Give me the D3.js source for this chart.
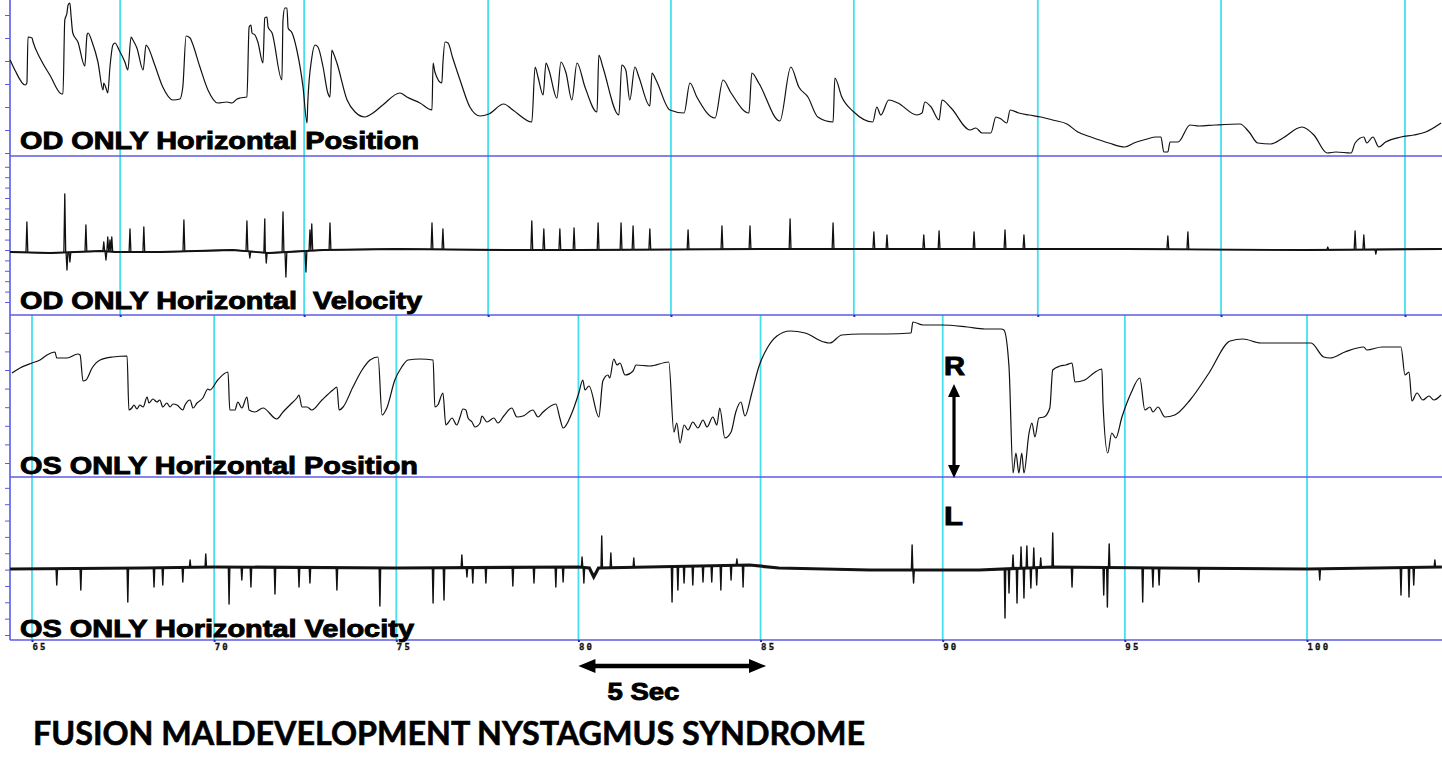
<!DOCTYPE html>
<html>
<head>
<meta charset="utf-8">
<script src="https://cdn.jsdelivr.net/npm/d3@7"></script>
<style>
  body { margin: 0; background: #fff; }
  svg { display: block; }
</style>
</head>
<body>
<div id="chart"></div>
<script>
// time axis (seconds) and the grid seconds used by the OD recording
const axisSeconds = [65, 70, 75, 80, 85, 90, 95, 100];
const odGridSeconds = [67.42, 72.47, 77.52, 82.54, 87.56, 92.61, 97.64, 102.69];
const scaleBarSeconds = [80, 85.15];
const rlArrowSecond = 90.31;

// OD horizontal position [s, deg]
const odPosition = [
  [64.40,3.6],[64.53,1.6],[64.81,-1.4],[64.86,-1.0],[64.89,8.2],[65.00,8.0],[65.03,7.2],[65.22,4.0],[65.49,0.6],[65.82,-3.2],[65.85,-3.2],
  [65.90,11.6],[65.96,13.0],[65.99,14.6],[66.04,15.0],[66.07,12.6],[66.12,9.0],[66.26,7.2],[66.45,2.4],[66.51,8.6],[66.54,9.0],[66.65,7.2],
  [66.81,3.2],[66.95,-2.4],[66.97,-1.0],[67.03,-2.0],[67.08,-3.0],[67.14,2.2],[67.22,6.6],[67.28,7.0],[67.39,5.6],[67.55,3.2],[67.63,1.6],
  [67.72,8.2],[67.77,7.6],[67.88,6.0],[68.05,1.6],[68.13,6.6],[68.18,6.2],[68.37,2.6],[68.59,-1.8],[68.87,-4.4],[69.06,-4.2],[69.14,-1.8],
  [69.23,8.4],[69.34,8.0],[69.39,7.2],[69.61,2.2],[69.83,-2.4],[70.10,-5.0],[70.35,-4.8],[70.49,-5.0],[70.63,-4.2],[70.71,-4.0],[70.90,-3.8],
  [70.96,10.2],[71.01,10.6],[71.04,9.0],[71.12,8.6],[71.20,7.2],[71.34,3.0],[71.39,12.0],[71.45,12.2],[71.48,10.2],[71.59,9.0],[71.86,-0.4],
  [71.89,11.6],[71.94,14.0],[72.00,14.0],[72.03,10.0],[72.14,9.0],[72.27,5.6],[72.44,-1.8],[72.55,-9.0],[72.57,-5.0],[72.68,4.0],[72.77,6.6],
  [72.85,6.2],[72.99,2.2],[73.12,-3.0],[73.18,-3.8],[73.23,5.6],[73.26,5.2],[73.37,3.0],[73.65,-4.4],[73.87,-6.8],[74.14,-7.8],[74.36,-7.0],
  [74.63,-5.4],[75.10,-3.0],[75.29,-3.8],[75.65,-5.0],[75.98,-6.4],[76.01,3.0],[76.06,1.2],[76.25,-1.0],[76.28,3.0],[76.34,7.2],[76.42,7.0],
  [76.55,4.0],[76.75,-0.4],[77.02,-5.8],[77.30,-7.6],[77.54,-7.2],[77.95,-5.2],[78.20,-6.4],[78.72,-8.8],[78.81,2.2],[78.89,0.2],[79.03,-3.4],
  [79.11,3.0],[79.19,1.6],[79.41,-4.0],[79.52,3.2],[79.66,1.0],[79.82,-4.4],[79.96,3.0],[80.18,-1.8],[80.51,-6.8],[80.56,4.6],[80.67,2.2],
  [81.11,-7.4],[81.19,2.6],[81.30,1.6],[81.41,-4.4],[81.55,2.2],[81.66,0.2],[81.96,-5.6],[82.02,1.0],[82.13,-0.4],[82.51,-6.4],[82.90,-7.0],
  [83.06,-1.0],[83.25,-3.8],[83.75,-8.0],[83.97,-0.4],[84.19,-3.0],[84.68,-7.0],[84.76,1.0],[84.95,-1.0],[85.53,-8.6],[85.83,2.2],[86.05,-1.8],
  [86.30,-3.8],[86.57,-7.8],[86.99,-8.8],[87.04,0.0],[87.23,-3.8],[87.56,-6.8],[88.08,-8.8],[88.19,-5.8],[88.30,-7.4],[88.52,-4.4],[88.77,-5.0],
  [89.29,-7.4],[89.43,-7.0],[89.51,-4.8],[89.68,-5.8],[89.90,-8.4],[89.98,-4.4],[90.23,-6.0],[90.75,-10.4],[90.91,-10.0],[91.08,-11.0],
  [91.32,-11.0],[91.46,-7.8],[91.60,-8.2],[91.76,-9.0],[91.85,-6.4],[92.09,-7.0],[92.37,-7.4],[92.70,-7.8],[93.02,-8.4],[93.41,-9.2],
  [93.71,-10.8],[94.07,-11.8],[94.56,-13.0],[95.00,-13.8],[95.25,-13.0],[95.61,-12.2],[95.85,-11.8],[95.99,-11.8],[96.07,-14.8],[96.18,-14.8],
  [96.24,-12.8],[96.46,-12.8],[96.79,-9.4],[97.03,-9.6],[97.47,-9.4],[98.16,-9.2],[98.41,-10.8],[98.65,-13.0],[99.01,-13.2],[99.34,-12.0],
  [99.86,-9.8],[100.19,-11.4],[100.55,-15.0],[100.79,-14.8],[101.21,-15.0],[101.32,-13.0],[101.56,-11.8],[101.64,-13.0],[101.81,-11.8],
  [101.97,-13.8],[102.16,-12.8],[102.58,-11.8],[102.93,-11.4],[103.26,-10.8],[103.68,-9.0]
];

// OD horizontal velocity: slow baseline [s, deg/s] and saccade peaks [s, deg/s]
const odVelocityBase = [
  [64.40,-0.4],[65.5,-0.6],[66.9,-0.2],[67.3,-0.4],[68.5,-0.4],[69.5,-0.2],[70.5,0],[71.5,-0.6],[73,0],[75,0.2],
  [78,0],[80,0],[85,0.2],[90,0.2],[95,0.2],[100,0],[103.7,0.2]
];
const odVelocitySpikes = [
  [64.86,5.6],[65.90,11.2],[65.96,-4.0],[66.04,-2.4],[66.48,5.0],[66.97,1.6],[67.03,-2.0],[67.08,2.6],[67.14,2.0],[67.19,2.6],
  [67.69,4.2],[68.07,4.6],[69.17,6.0],[70.90,5.8],[70.98,-1.6],[71.39,6.2],[71.43,-2.6],[71.89,7.6],[71.97,-5.4],[72.52,-4.4],
  [72.63,4.0],[72.68,5.2],[73.18,5.4],[75.98,5.4],[76.28,4.2],[78.72,5.8],[79.05,4.2],[79.49,4.2],[79.88,4.4],[80.54,5.4],
  [81.17,5.4],[81.50,4.8],[81.96,4.2],[83.01,4.0],[83.94,4.8],[84.71,4.8],[85.81,6.2],[86.99,5.4],[88.11,3.6],[88.47,3.0],
  [89.48,3.0],[89.90,3.8],[90.86,3.6],[91.71,4.0],[92.23,3.0],[96.18,2.8],[96.73,3.6],[100.57,0.6],[101.32,3.8],[101.56,3.0],[101.89,-0.8]
];

// OS horizontal position [s, deg]
const osPosition = [
  [64.45,4.6],[64.67,5.6],[65.00,6.6],[65.22,7.2],[65.41,8.2],[65.63,8.8],[65.68,7.6],[65.96,7.6],[66.26,8.4],[66.32,8.2],[66.40,3.0],
  [66.48,3.2],[66.65,5.6],[66.87,7.2],[67.22,7.8],[67.61,8.0],[67.66,-2.8],[67.74,-2.4],[67.80,-1.8],[67.88,-2.6],[67.96,-1.8],[68.05,-2.2],
  [68.16,-0.2],[68.21,-1.4],[68.32,-0.6],[68.43,-1.2],[68.51,-0.8],[68.59,-2.2],[68.70,-1.4],[68.79,-2.2],[68.87,-1.6],[68.98,-1.8],
  [69.14,-2.8],[69.20,-1.8],[69.34,-0.8],[69.42,-2.4],[69.53,-1.4],[69.69,-0.4],[69.83,1.4],[69.88,1.2],[70.10,3.2],[70.38,4.8],[70.43,-2.8],
  [70.57,-2.8],[70.65,-1.2],[70.76,-2.4],[70.90,-0.2],[70.96,-2.8],[71.12,-3.2],[71.34,-2.4],[71.72,-4.6],[71.89,-3.2],[72.08,-1.8],
  [72.27,-0.4],[72.33,0.2],[72.41,-2.2],[72.55,-2.2],[72.68,-2.8],[72.96,-0.8],[73.26,1.2],[73.37,1.8],[73.43,-2.8],[73.54,-2.2],[73.81,1.8],
  [74.06,5.2],[74.28,7.2],[74.50,7.8],[74.61,-3.8],[74.74,-2.4],[74.96,3.2],[75.15,5.8],[75.32,7.2],[75.65,7.4],[76.01,7.2],[76.06,-2.2],
  [76.14,-1.8],[76.28,0.6],[76.36,-5.8],[76.42,-5.4],[76.53,-4.4],[76.66,-5.8],[76.75,-4.2],[76.83,-2.6],[76.91,-2.8],[76.97,-4.4],
  [77.08,-5.2],[77.16,-6.2],[77.30,-5.4],[77.35,-4.0],[77.49,-5.2],[77.68,-4.4],[77.79,-5.4],[77.95,-4.0],[78.17,-2.4],[78.31,-4.2],
  [78.48,-4.0],[78.75,-2.8],[78.89,-4.2],[79.03,-3.2],[79.38,-1.6],[79.49,-4.4],[79.58,-6.4],[79.82,-3.4],[80.01,0.6],[80.12,3.2],
  [80.18,1.2],[80.29,2.0],[80.56,-4.2],[80.67,3.0],[80.81,4.2],[80.86,3.6],[80.97,7.4],[81.06,6.2],[81.14,6.6],[81.28,4.2],[81.50,5.0],
  [81.58,6.2],[81.96,6.0],[82.48,6.8],[82.62,-7.2],[82.70,-5.4],[82.79,-9.4],[82.90,-5.8],[83.01,-6.8],[83.14,-5.2],[83.28,-6.4],
  [83.42,-4.8],[83.53,-6.2],[83.69,-4.2],[83.80,-5.8],[83.88,-2.4],[84.02,-8.4],[84.19,-7.2],[84.32,-3.2],[84.46,-1.2],[84.57,-4.0],
  [84.76,0.6],[84.95,5.8],[85.20,9.8],[85.45,12.0],[85.81,13.0],[86.22,12.6],[86.74,10.8],[86.90,10.6],[87.23,12.2],[87.75,12.4],
  [88.44,12.4],[89.13,12.6],[89.18,14.8],[89.46,14.2],[89.98,14.2],[90.67,13.8],[91.16,13.4],[91.60,13.4],[91.68,13.2],[91.82,5.8],
  [91.93,-15.4],[92.01,-11.4],[92.09,-15.4],[92.17,-11.4],[92.23,-15.4],[92.37,-7.4],[92.45,-5.4],[92.53,-8.2],[92.64,-4.4],[92.78,-4.2],
  [92.94,-2.4],[93.02,5.2],[93.22,6.0],[93.38,6.2],[93.55,6.6],[93.63,2.8],[93.90,3.2],[94.15,4.6],[94.37,5.4],[94.40,-1.4],[94.53,-11.4],
  [94.64,-7.4],[94.75,-8.4],[94.92,-4.2],[95.17,0.6],[95.41,3.6],[95.55,-2.8],[95.69,-2.2],[95.77,-3.2],[95.91,-2.2],[96.10,-4.2],
  [96.37,-3.8],[96.79,-0.8],[97.31,4.6],[97.89,11.0],[98.24,11.4],[98.73,10.6],[99.17,10.6],[99.86,10.6],[100.11,10.6],[100.46,7.8],
  [100.63,7.6],[101.04,8.8],[101.56,9.8],[101.64,9.2],[102.06,9.8],[102.58,9.8],[102.69,4.2],[102.80,4.8],[102.88,-1.0],[103.02,0.6],
  [103.18,-0.8],[103.35,0.0],[103.48,-0.8],[103.68,0.2]
];

// OS horizontal velocity: baseline and peaks
const osVelocityBase = [
  [64.40,0],[68,0.2],[70,0.4],[75,0.2],[80,0.4],[80.3,0.2],[80.42,-1.6],[80.55,0.2],[84.7,0.8],[85.5,0.2],[88,-0.2],
  [91,-0.2],[93,0.4],[96,0.2],[100,0],[103.7,0.4]
];
const osVelocitySpikes = [
  [65.68,-3.2],[66.34,-4.2],[67.63,-6.6],[68.35,-3.6],[68.59,-3.2],[69.14,-2.6],[69.34,1.8],[69.77,3.0],[70.41,-7.0],[70.76,-2.2],
  [71.01,-3.6],[71.67,-5.0],[72.33,-3.6],[72.63,-2.8],[73.37,-4.2],[74.55,-7.4],[76.01,-6.8],[76.31,-6.2],[76.80,2.8],[76.94,-1.6],
  [77.10,-2.8],[77.46,-2.8],[78.20,-3.4],[78.78,-2.8],[79.38,-3.6],[79.58,-2.6],[80.10,2.4],[80.15,-2.8],[80.64,6.6],[80.89,3.2],
  [81.52,2.2],[82.57,-6.6],[82.73,-4.2],[82.90,-2.8],[83.14,-3.2],[83.42,-2.6],[83.66,-2.6],[83.91,-4.2],[84.19,-2.2],[84.35,2.0],
  [84.52,-3.6],[89.16,4.8],[89.20,-2.8],[91.71,-9.8],[91.82,-4.8],[91.93,2.8],[92.04,-6.8],[92.15,4.4],[92.23,-5.8],[92.31,4.6],
  [92.42,-3.8],[92.50,4.2],[92.58,-3.2],[92.69,2.2],[93.02,7.2],[93.55,-3.6],[94.42,-5.2],[94.52,-7.6],[94.57,5.0],[95.49,-6.6],
  [95.77,-3.6],[95.94,-3.2],[97.03,-2.6],[100.35,-2.2],[102.58,-5.2],[102.80,-5.6],[102.93,-3.2],[103.51,1.8]
];

const W = 1442, H = 763;
const axisColor = '#5b5be3';
const gridColor = '#45e0ee';
const traceColor = '#111';

const svg = d3.select('#chart').append('svg')
  .attr('width', W)
  .attr('height', H);

svg.append('rect').attr('width', W).attr('height', H).attr('fill', '#fff');

const x = d3.scaleLinear().domain([65, 100]).range([32, 1307]);
const plotLeft = 10, plotRight = W;

const panels = [
  { top: 0,   bottom: 156, domain: [-15.6, 15.6], ticks: d3.range(-15, 15.6, 4.6) },
  { top: 156, bottom: 315, domain: [-13, 18.8],   ticks: d3.range(-10.4, 18, 2.08) },
  { top: 315, bottom: 477, domain: [-16.2, 16.2], ticks: d3.range(-13.4, 14, 3.72) },
  { top: 477, bottom: 640, domain: [-14.2, 18.4], ticks: d3.range(-13.2, 17, 3.27) }
];
panels.forEach(p => {
  p.y = d3.scaleLinear().domain(p.domain).range([p.bottom, p.top]);
});

// build a velocity trace from baseline knots + narrow saccade peaks
function buildVelocity(base, spikes, w) {
  const baseAt = d3.scaleLinear().domain(base.map(d => d[0])).range(base.map(d => d[1]));
  const pts = base.map(d => [d[0], d[1]]);
  spikes.forEach(([t, v]) => {
    pts.push([t - w, baseAt(t - w)], [t, v], [t + w, baseAt(t + w)]);
  });
  pts.sort((a, b) => a[0] - b[0]);
  return pts;
}

const odVelocity = buildVelocity(odVelocityBase, odVelocitySpikes, 0.025);
const osVelocity = buildVelocity(osVelocityBase, osVelocitySpikes, 0.02);

// vertical grid
svg.append('g').selectAll('line')
  .data(odGridSeconds)
  .join('line')
  .attr('x1', d => x(d)).attr('x2', d => x(d))
  .attr('y1', 0).attr('y2', 315)
  .attr('stroke', gridColor).attr('stroke-width', 1.8);

svg.append('g').selectAll('line')
  .data(axisSeconds)
  .join('line')
  .attr('x1', d => x(d)).attr('x2', d => x(d))
  .attr('y1', 315).attr('y2', 640)
  .attr('stroke', gridColor).attr('stroke-width', 1.8);

// panel separators and left axis
svg.append('g').selectAll('line')
  .data(panels)
  .join('line')
  .attr('x1', plotLeft).attr('x2', plotRight)
  .attr('y1', d => d.bottom).attr('y2', d => d.bottom)
  .attr('stroke', axisColor).attr('stroke-width', 1.4);

svg.append('line')
  .attr('x1', plotLeft).attr('x2', plotLeft)
  .attr('y1', 0).attr('y2', 640)
  .attr('stroke', axisColor).attr('stroke-width', 1.6);

panels.forEach(p => {
  svg.append('g')
    .attr('transform', `translate(${plotLeft},0)`)
    .call(d3.axisLeft(p.y).tickValues(p.ticks).tickSize(5).tickFormat(''))
    .call(g => g.select('.domain').remove())
    .call(g => g.selectAll('line').attr('stroke', axisColor).attr('stroke-width', 1));
});

// small marks at bottom of the OD block
svg.append('g')
  .attr('transform', 'translate(0,315)')
  .call(d3.axisBottom(x).tickValues(odGridSeconds).tickSize(2).tickFormat(''))
  .call(g => g.select('.domain').remove())
  .call(g => g.selectAll('line').attr('stroke', '#2a2ac0').attr('stroke-width', 2));

// time axis
svg.append('g')
  .attr('transform', 'translate(0,640)')
  .call(d3.axisBottom(x).tickValues(axisSeconds).tickSize(2).tickFormat(d3.format('d')))
  .call(g => g.select('.domain').remove())
  .call(g => g.selectAll('line').attr('stroke', '#2a2ac0').attr('stroke-width', 2))
  .call(g => g.selectAll('text')
    .attr('text-anchor', 'start')
    .attr('x', 0)
    .attr('y', 10)
    .attr('dy', 0)
    .attr('fill', '#111')
    .attr('stroke', '#111')
    .attr('stroke-width', 0.3)
    .style('font-family', '"DejaVu Sans Mono", monospace')
    .style('font-weight', 'bold')
    .style('font-size', '9px')
    .style('letter-spacing', '2.2px'));

// velocity baselines carry a fine noise band in the recording; drawn as a thicker base stroke
[[odVelocityBase, panels[1], 1.8], [osVelocityBase, panels[3], 3.2]].forEach(([data, panel, width]) => {
  svg.append('path')
    .datum(data)
    .attr('d', d3.line().x(d => x(d[0])).y(d => panel.y(d[1])))
    .attr('fill', 'none')
    .attr('stroke', '#1a1a1a')
    .attr('stroke-width', width);
});

// traces
const series = [
  { data: odPosition, panel: panels[0], width: 1.2, curve: d3.curveMonotoneX },
  { data: odVelocity, panel: panels[1], width: 1.3, curve: d3.curveLinear },
  { data: osPosition, panel: panels[2], width: 1.2, curve: d3.curveMonotoneX },
  { data: osVelocity, panel: panels[3], width: 1.4, curve: d3.curveLinear }
];
series.forEach(s => {
  const line = d3.line()
    .curve(s.curve)
    .x(d => x(d[0]))
    .y(d => s.panel.y(d[1]));
  svg.append('path')
    .datum(s.data)
    .attr('d', line)
    .attr('fill', 'none')
    .attr('stroke', traceColor)
    .attr('stroke-width', s.width)
    .attr('stroke-linejoin', 'round');
});

// panel labels
const labels = [
  { text: 'OD ONLY Horizontal Position', y: 149, len: 399 },
  { text: 'OD ONLY Horizontal  Velocity', y: 308.5, len: 402 },
  { text: 'OS ONLY Horizontal Position', y: 474, len: 398 },
  { text: 'OS ONLY Horizontal Velocity', y: 636.5, len: 394 }
];
const boldText = sel => sel
  .style('font-family', '"Liberation Sans", Arial, sans-serif')
  .style('font-weight', 'bold')
  .attr('fill', '#000')
  .attr('stroke', '#000')
  .attr('stroke-width', 0.9)
  .attr('lengthAdjust', 'spacingAndGlyphs');

svg.append('g').selectAll('text')
  .data(labels)
  .join('text')
  .attr('x', 20)
  .attr('y', d => d.y)
  .attr('textLength', d => d.len)
  .style('white-space', 'pre')
  .style('font-size', '24px')
  .call(boldText)
  .text(d => d.text);

// 5 s scale bar
const barY = 666;
const bx0 = x(scaleBarSeconds[0]), bx1 = x(scaleBarSeconds[1]);
svg.append('line')
  .attr('x1', bx0 + 10).attr('x2', bx1 - 10)
  .attr('y1', barY).attr('y2', barY)
  .attr('stroke', '#000').attr('stroke-width', 4.5);
svg.append('path')
  .attr('d', `M${bx0},${barY} L${bx0 + 17},${barY - 7} L${bx0 + 17},${barY + 7} Z M${bx1},${barY} L${bx1 - 17},${barY - 7} L${bx1 - 17},${barY + 7} Z`)
  .attr('fill', '#000');
svg.append('text')
  .attr('x', bx0 + 29).attr('y', 700)
  .attr('textLength', 72)
  .style('font-size', '24px')
  .call(boldText)
  .text('5 Sec');

// R / L direction arrow
const ax = x(rlArrowSecond);
const aTop = 384, aBot = 478;
svg.append('line')
  .attr('x1', ax).attr('x2', ax)
  .attr('y1', aTop + 8).attr('y2', aBot - 8)
  .attr('stroke', '#000').attr('stroke-width', 3.2);
svg.append('path')
  .attr('d', `M${ax},${aTop} L${ax - 6},${aTop + 13} L${ax + 6},${aTop + 13} Z M${ax},${aBot} L${ax - 6},${aBot - 13} L${ax + 6},${aBot - 13} Z`)
  .attr('fill', '#000');
svg.append('text')
  .attr('x', ax - 10).attr('y', 375)
  .attr('textLength', 21)
  .style('font-size', '25px')
  .call(boldText)
  .text('R');
svg.append('text')
  .attr('x', ax - 10).attr('y', 525)
  .attr('textLength', 19)
  .style('font-size', '25px')
  .call(boldText)
  .text('L');

// title
svg.append('text')
  .attr('x', 33).attr('y', 745)
  .attr('textLength', 832).attr('lengthAdjust', 'spacingAndGlyphs')
  .style('font-family', 'Lato, "Open Sans", sans-serif')
  .style('font-weight', 'bold').style('font-size', '32px')
  .attr('fill', '#000')
  .attr('stroke', '#000')
  .attr('stroke-width', 0.6)
  .text('FUSION MALDEVELOPMENT NYSTAGMUS SYNDROME');
</script>
</body>
</html>
